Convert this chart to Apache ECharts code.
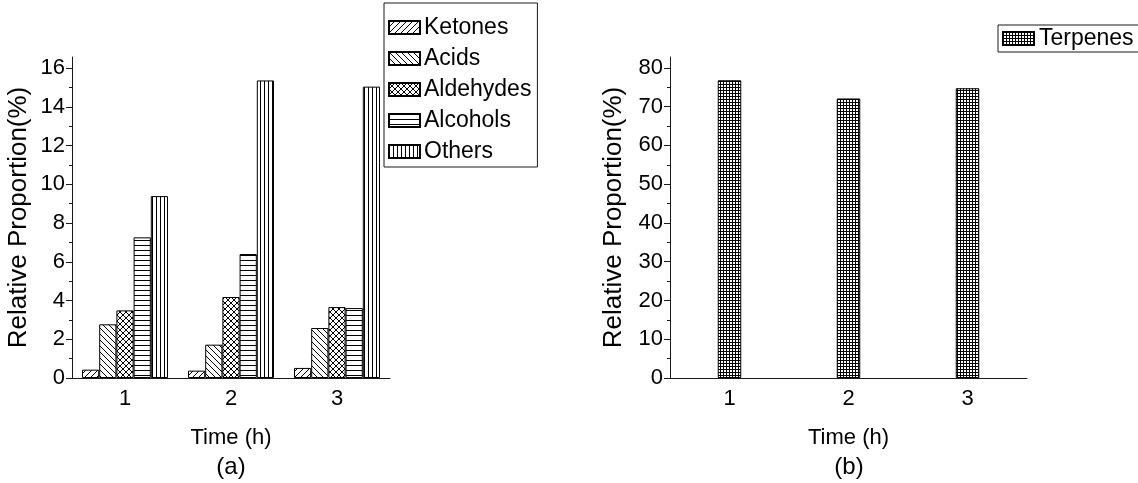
<!DOCTYPE html>
<html>
<head>
<meta charset="utf-8">
<script src="https://cdn.jsdelivr.net/npm/echarts@6/dist/echarts.min.js"></script>
<style>
  html, body { margin: 0; padding: 0; background: #fff; }
  #main { width: 1138px; height: 483px; }
</style>
</head>
<body>
<div id="main"></div>
<script>
  // data
  let times = ['1', '2', '3'];
  let ketones = [0.43, 0.38, 0.52];
  let acids = [2.77, 1.72, 2.58];
  let aldehydes = [3.49, 4.18, 3.66];
  let alcohols = [7.26, 6.40, 3.61];
  let others = [9.39, 15.36, 15.04];
  let terpenes = [76.8, 72.1, 74.75];
  let yTicksA = [0, 2, 4, 6, 8, 10, 12, 14, 16];
  let yMinorA = [1, 3, 5, 7, 9, 11, 13, 15];
  let yTicksB = [0, 10, 20, 30, 40, 50, 60, 70, 80];
  let yMinorB = [5, 15, 25, 35, 45, 55, 65, 75];

  let font = 'Liberation Sans, Arial, sans-serif';
  let ink = '#1a1a1a';

  // hatch fills
  function makePattern(size, draw) {
    let c = document.createElement('canvas');
    c.width = size;
    c.height = size;
    let ctx = c.getContext('2d');
    ctx.fillStyle = '#fff';
    ctx.fillRect(0, 0, size, size);
    ctx.strokeStyle = '#000';
    ctx.lineWidth = 1;
    ctx.beginPath();
    draw(ctx, size);
    ctx.stroke();
    return { image: c, repeat: 'repeat' };
  }
  function slash(ctx, s) {
    ctx.moveTo(-1, s + 1); ctx.lineTo(s + 1, -1);
    ctx.moveTo(-1, 1); ctx.lineTo(1, -1);
    ctx.moveTo(s - 1, s + 1); ctx.lineTo(s + 1, s - 1);
  }
  function backslash(ctx, s) {
    ctx.moveTo(-1, -1); ctx.lineTo(s + 1, s + 1);
    ctx.moveTo(s - 1, -1); ctx.lineTo(s + 1, 1);
    ctx.moveTo(-1, s - 1); ctx.lineTo(1, s + 1);
  }
  let fills = {
    Ketones: makePattern(6, slash),
    Acids: makePattern(6, backslash),
    Aldehydes: makePattern(6, function (ctx, s) { slash(ctx, s); backslash(ctx, s); }),
    Alcohols: makePattern(5, function (ctx, s) { ctx.moveTo(0, 0.5); ctx.lineTo(s, 0.5); }),
    Others: makePattern(4, function (ctx, s) { ctx.moveTo(0.5, 0); ctx.lineTo(0.5, s); }),
    Terpenes: makePattern(3, function (ctx, s) {
      ctx.moveTo(0.5, 0); ctx.lineTo(0.5, s);
      ctx.moveTo(0, 0.5); ctx.lineTo(s, 0.5);
    })
  };

  let textStyle = { fontFamily: font, fontSize: 22, color: '#000' };

  function xAxes(gridIndex) {
    return [
      {
        type: 'category', gridIndex: gridIndex, data: times, position: 'bottom',
        name: 'Time (h)', nameLocation: 'middle', nameGap: 49,
        nameTextStyle: { fontFamily: font, fontSize: 22, color: '#000' },
        axisLine: { lineStyle: { color: ink, width: 1 } },
        axisTick: { alignWithLabel: true, length: 5, lineStyle: { color: ink } },
        axisLabel: Object.assign({ margin: 10 }, textStyle),
        splitLine: { show: false }
      },
      {
        // short ticks between the groups
        type: 'category', gridIndex: gridIndex, data: times, position: 'bottom',
        axisLine: { show: false },
        axisTick: { length: 3, lineStyle: { color: ink } },
        axisLabel: { show: false },
        splitLine: { show: false }
      }
    ];
  }

  function yAxes(gridIndex, max, ticks, minor, gap) {
    return [
      {
        type: 'value', gridIndex: gridIndex, min: 0, max: max,
        name: 'Relative Proportion(%)', nameLocation: 'middle', nameGap: gap,
        nameTextStyle: { fontFamily: font, fontSize: 26, color: '#000' },
        axisLine: { show: true, lineStyle: { color: ink, width: 1 } },
        axisTick: { show: true, length: 6, customValues: ticks, lineStyle: { color: ink } },
        axisLabel: Object.assign({ margin: 7, customValues: ticks }, textStyle),
        splitLine: { show: false }
      },
      {
        type: 'value', gridIndex: gridIndex, min: 0, max: max, position: 'left',
        axisLine: { show: false },
        axisTick: { show: true, length: 3, customValues: minor, lineStyle: { color: ink } },
        axisLabel: { show: false },
        splitLine: { show: false }
      }
    ];
  }

  function barSeries(name, data, width, xi, yi) {
    return {
      name: name,
      type: 'bar',
      xAxisIndex: xi,
      yAxisIndex: yi,
      barWidth: width,
      barGap: '0%',
      data: data,
      itemStyle: { color: fills[name], borderColor: '#000', borderWidth: 1 },
      emphasis: { disabled: true }
    };
  }

  let chart = echarts.init(document.getElementById('main'), null, { renderer: 'canvas' });

  let option = {
    backgroundColor: '#fff',
    animation: false,
    grid: [
      { left: 72, top: 57, width: 318, height: 321 },
      { left: 670, top: 57, width: 357, height: 321 }
    ],
    xAxis: xAxes(0).concat(xAxes(1)),
    yAxis: yAxes(0, 16.57, yTicksA, yMinorA, 40).concat(yAxes(1, 82.8, yTicksB, yMinorB, 43)),
    legend: [
      {
        data: ['Ketones', 'Acids', 'Aldehydes', 'Alcohols', 'Others'],
        orient: 'vertical', left: 384, top: 3,
        itemWidth: 31, itemHeight: 13, itemGap: 8,
        padding: [13, 6, 4, 4],
        borderColor: ink, borderWidth: 1,
        icon: 'rect',
        textStyle: { fontFamily: font, fontSize: 23, color: '#000', padding: [0, 0, 0, -1] }
      },
      {
        data: ['Terpenes'],
        orient: 'vertical', left: 998, top: 25,
        itemWidth: 31, itemHeight: 13,
        padding: [2, 6, 2, 4],
        borderColor: ink, borderWidth: 1,
        icon: 'rect',
        textStyle: { fontFamily: font, fontSize: 23, color: '#000' }
      }
    ],
    graphic: [
      { type: 'text', x: 231, y: 467, style: { text: '(a)', font: '24px ' + font, fill: '#000', textAlign: 'center', textVerticalAlign: 'middle' } },
      { type: 'text', x: 849, y: 467, style: { text: '(b)', font: '24px ' + font, fill: '#000', textAlign: 'center', textVerticalAlign: 'middle' } }
    ],
    series: [
      barSeries('Ketones', ketones, 17.2, 0, 0),
      barSeries('Acids', acids, 17.2, 0, 0),
      barSeries('Aldehydes', aldehydes, 17.2, 0, 0),
      barSeries('Alcohols', alcohols, 17.2, 0, 0),
      barSeries('Others', others, 17.2, 0, 0),
      barSeries('Terpenes', terpenes, 23.5, 2, 2)
    ]
  };

  chart.setOption(option);
  window.addEventListener('resize', () => {
    chart.resize();
  });
</script>
</body>
</html>
